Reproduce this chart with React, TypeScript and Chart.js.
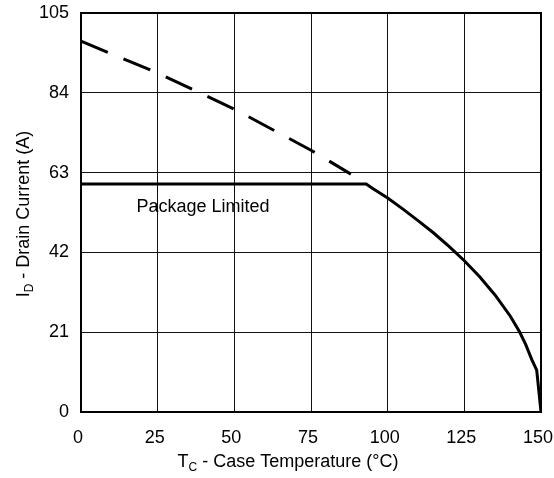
import React, { useRef, useEffect } from "react";
import { Chart, registerables } from "chart.js";

Chart.register(...registerables);

// values
const packageTemps = [0, 93];
const packageCurrent = [60, 60];
const curveTemps = [95, 100, 105, 110, 115, 120, 125, 130, 135, 140, 143, 145, 147, 148.6, 150];
const curveCurrent = [58.9, 56.3, 53.4, 50.3, 47.1, 43.6, 39.8, 35.6, 30.8, 25.2, 21.1, 17.8, 13.8, 11, 0];
const siliconTemps = [0, 25, 50, 75, 88];
const siliconCurrent = [97.6, 89.2, 79.7, 68.9, 62.6];
const xTicks = { min: 0, max: 150, step: 25 };
const yTicks = { min: 0, max: 105, step: 21 };

const FONT = "'Liberation Sans', Arial, sans-serif";

// draws text with a subscript after the first letter
function drawSubText(ctx: CanvasRenderingContext2D, main: string, sub: string, rest: string, x: number, y: number) {
  ctx.font = `18px ${FONT}`;
  const w1 = ctx.measureText(main).width;
  const w3 = ctx.measureText(rest).width;
  ctx.font = `12px ${FONT}`;
  const w2 = ctx.measureText(sub).width;
  let cx = x - (w1 + w2 + w3) / 2;
  ctx.textAlign = "left";
  ctx.textBaseline = "alphabetic";
  ctx.font = `18px ${FONT}`;
  ctx.fillText(main, cx, y);
  cx += w1;
  ctx.font = `12px ${FONT}`;
  ctx.fillText(sub, cx, y + 4);
  cx += w2;
  ctx.font = `18px ${FONT}`;
  ctx.fillText(rest, cx, y);
}

const extrasPlugin = {
  id: "extras",
  afterDraw(chart: any) {
    const { ctx, chartArea: a, scales } = chart;
    ctx.save();
    ctx.strokeStyle = "#000";
    ctx.lineWidth = 2;
    ctx.strokeRect(a.left, a.top, a.right - a.left, a.bottom - a.top);
    ctx.fillStyle = "#000";
    ctx.font = `18px ${FONT}`;
    ctx.textAlign = "center";
    ctx.textBaseline = "middle";
    ctx.fillText("Package Limited", scales.x.getPixelForValue(39.8), scales.y.getPixelForValue(54));
    // x title sits a little left of the plot centre in the original
    drawSubText(ctx, "T", "C", " - Case Temperature (°C)", 288, 467);
    ctx.translate(29, 214);
    ctx.rotate(-Math.PI / 2);
    drawSubText(ctx, "I", "D", " - Drain Current (A)", 0, 0);
    ctx.restore();
  },
};

export default function App() {
  const canvas = useRef<HTMLCanvasElement>(null);

  useEffect(() => {
    document.body.style.margin = "0";
    const ctx = canvas.current!.getContext("2d");
    if (!ctx) return;

    const chart = new Chart(ctx, {
      type: "line",
      data: {
        datasets: [
          {
            data: siliconTemps.map((t, i) => ({ x: t, y: siliconCurrent[i] })),
            borderColor: "#000",
            borderWidth: 3,
            borderDash: [29, 17],
            pointRadius: 0,
            fill: false,
          },
          {
            data: packageTemps
              .concat(curveTemps)
              .map((t, i) => ({ x: t, y: packageCurrent.concat(curveCurrent)[i] })),
            borderColor: "#000",
            borderWidth: 3,
            pointRadius: 0,
            fill: false,
          },
        ],
      },
      options: {
        animation: false,
        responsive: false,
        layout: { padding: { left: 0, right: 13, top: 13, bottom: 0 } },
        plugins: { legend: { display: false }, tooltip: { enabled: false } },
        scales: {
          x: {
            type: "linear",
            min: xTicks.min,
            max: xTicks.max,
            afterFit: (s: any) => {
              s.height = 66;
              s.paddingLeft = 0;
              s.paddingRight = 0;
            },
            ticks: {
              stepSize: xTicks.step,
              color: "#000",
              padding: 15,
              labelOffset: -3,
              font: { family: FONT, size: 18 },
            },
            grid: { color: "#111", lineWidth: 1, drawTicks: false },
            border: { display: false },
          },
          y: {
            type: "linear",
            min: yTicks.min,
            max: yTicks.max,
            afterFit: (s: any) => {
              s.width = 81;
              s.paddingTop = 0;
              s.paddingBottom = 0;
            },
            ticks: { stepSize: yTicks.step, color: "#000", padding: 12, font: { family: FONT, size: 18 } },
            grid: { color: "#111", lineWidth: 1, drawTicks: false },
            border: { display: false },
          },
        },
      },
      plugins: [extrasPlugin],
    });

    return () => {
      chart.destroy();
    };
  }, []);

  return (
    <div style={{ width: 554, height: 478, background: "#fff" }}>
      <canvas ref={canvas} width={554} height={478}>
        Your browser doesn't support canvas.
      </canvas>
    </div>
  );
}
